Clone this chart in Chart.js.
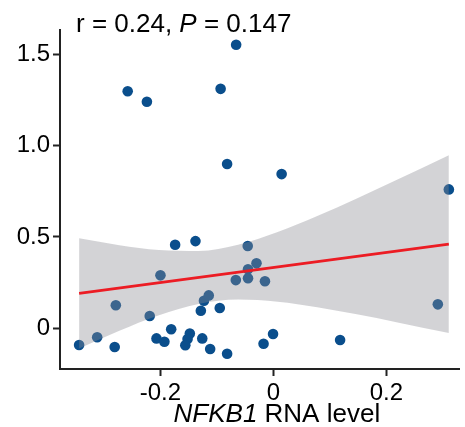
<!DOCTYPE html>
<html>
<head>
<meta charset="utf-8">
<script src="https://cdn.jsdelivr.net/npm/chart.js@4.4.1/dist/chart.umd.min.js"></script>
<style>
  html, body { margin: 0; padding: 0; background: #ffffff; }
  #wrap { width: 465px; height: 427px; position: relative; }
</style>
</head>
<body>
<div id="wrap"><canvas id="c" width="465" height="427"></canvas></div>
<script>
// ---- Data ----
const pointX = [-0.066, -0.258, -0.224, -0.0935, -0.082, 0.0145, 0.3105, 0.291, 0.118,
  -0.344, -0.312, -0.281, -0.279, -0.219, -0.200, -0.174, -0.138, -0.181, -0.207, -0.193,
  -0.148, -0.152, -0.156, -0.126, -0.112, -0.082, -0.1285, -0.095, -0.123, -0.1145,
  -0.0666, -0.0455, -0.045, -0.045, -0.030, -0.015, -0.0007, -0.0175];
const pointY = [1.555, 1.300, 1.242, 1.313, 0.900, 0.845, 0.761, 0.130, -0.066,
  -0.093, -0.051, -0.104, 0.125, 0.066, 0.289, 0.457, 0.477, -0.007, -0.057, -0.075,
  -0.030, -0.060, -0.095, -0.057, -0.115, -0.141, 0.095, 0.110, 0.150, 0.179,
  0.263, 0.450, 0.322, 0.273, 0.355, 0.257, -0.033, -0.086];

const fitX = [-0.344, 0.3105];
const fitY = [0.190, 0.460];

const bandX = [-0.344, -0.2727, -0.2026, -0.1326, -0.0625, 0.0075, 0.0776, 0.1476, 0.2177, 0.3105];
const bandUpper = [0.493, 0.455, 0.428, 0.423, 0.457, 0.527, 0.615, 0.711, 0.812, 0.949];
const bandLower = [-0.112, -0.015, 0.070, 0.132, 0.156, 0.144, 0.114, 0.075, 0.032, -0.028];

const xTickValues = [-0.2, 0, 0.2];
const xTickLabels = ['-0.2', '0', '0.2'];
const yTickValues = [0, 0.5, 1.0, 1.5];
const yTickLabels = ['0', '0.5', '1.0', '1.5'];

const xRange = [-0.3778, 0.3297];
const yRange = [-0.225, 1.636];

const statText = { r: 'r = 0.24, ', p: 'P', rest: ' = 0.147' };
const xLabel = { gene: 'NFKB1', rest: ' RNA level' };

// ---- Build ----
const FONT = '"Liberation Sans", Arial, Helvetica, sans-serif';
const zip = (a, b) => a.map((v, i) => ({ x: v, y: b[i] }));

const textPlugin = {
  id: 'texts',
  afterDraw(chart) {
    const ctx = chart.ctx;
    ctx.save();
    ctx.fillStyle = '#000';
    ctx.textBaseline = 'alphabetic';
    ctx.textAlign = 'left';
    // stats title
    let x = 76, y = 32;
    const normal = '26px ' + FONT, italic = 'italic 26px ' + FONT;
    ctx.font = normal; ctx.fillText(statText.r, x, y); x += ctx.measureText(statText.r).width;
    ctx.font = italic; ctx.fillText(statText.p, x, y); x += ctx.measureText(statText.p).width;
    ctx.font = normal; ctx.fillText(statText.rest, x, y);
    // x axis label
    ctx.font = italic; const w1 = ctx.measureText(xLabel.gene).width;
    ctx.font = normal; const w2 = ctx.measureText(xLabel.rest).width;
    const cx = (chart.chartArea.left + chart.chartArea.right) / 2 + 17;
    let lx = cx - (w1 + w2) / 2; const ly = 422;
    ctx.font = italic; ctx.fillText(xLabel.gene, lx, ly);
    ctx.font = normal; ctx.fillText(xLabel.rest, lx + w1, ly);
    ctx.restore();
  }
};

new Chart(document.getElementById('c'), {
  type: 'scatter',
  data: {
    datasets: [
      {
        type: 'line', label: 'fit', data: zip(fitX, fitY), order: 0,
        borderColor: 'rgb(236,28,36)', borderWidth: 2.8, pointRadius: 0, fill: false
      },
      {
        type: 'line', label: 'upper', data: zip(bandX, bandUpper), order: 1,
        borderWidth: 0, borderColor: 'rgba(0,0,0,0)', pointRadius: 0,
        cubicInterpolationMode: 'monotone',
        fill: { target: 2 }, backgroundColor: 'rgba(140,140,146,0.38)'
      },
      {
        type: 'line', label: 'lower', data: zip(bandX, bandLower), order: 1,
        borderWidth: 0, borderColor: 'rgba(0,0,0,0)', pointRadius: 0,
        cubicInterpolationMode: 'monotone', fill: false
      },
      {
        label: 'samples', data: zip(pointX, pointY), order: 2,
        pointRadius: 5.3, pointBackgroundColor: 'rgb(10,78,140)',
        pointBorderWidth: 0, pointBorderColor: 'rgb(10,78,140)'
      }
    ]
  },
  options: {
    responsive: false,
    animation: false,
    devicePixelRatio: 1,
    layout: { padding: { top: 30, right: 1, left: 0, bottom: 0 } },
    plugins: { legend: { display: false }, tooltip: { enabled: false }, title: { display: false } },
    scales: {
      x: {
        type: 'linear', min: xRange[0], max: xRange[1],
        afterBuildTicks: s => { s.ticks = xTickValues.map(v => ({ value: v })); },
        afterFit: s => { s.height = 58; },
        ticks: {
          color: '#000', font: { family: FONT, size: 24 }, padding: 3, maxRotation: 0,
          callback: (v) => { const i = xTickValues.findIndex(t => Math.abs(t - v) < 1e-9); return i >= 0 ? xTickLabels[i] : ''; }
        },
        grid: { display: true, drawOnChartArea: false, drawTicks: true, tickLength: 7, tickColor: '#222', tickWidth: 2 },
        border: { display: true, color: '#222', width: 2 }
      },
      y: {
        type: 'linear', min: yRange[0], max: yRange[1],
        afterBuildTicks: s => { s.ticks = yTickValues.map(v => ({ value: v })); },
        afterFit: s => { s.width = 60; },
        ticks: {
          color: '#000', font: { family: FONT, size: 24 }, padding: 3,
          callback: (v) => { const i = yTickValues.findIndex(t => Math.abs(t - v) < 1e-9); return i >= 0 ? yTickLabels[i] : ''; }
        },
        grid: { display: true, drawOnChartArea: false, drawTicks: true, tickLength: 7, tickColor: '#222', tickWidth: 2 },
        border: { display: true, color: '#222', width: 2 }
      }
    }
  },
  plugins: [textPlugin]
});
</script>
</body>
</html>
